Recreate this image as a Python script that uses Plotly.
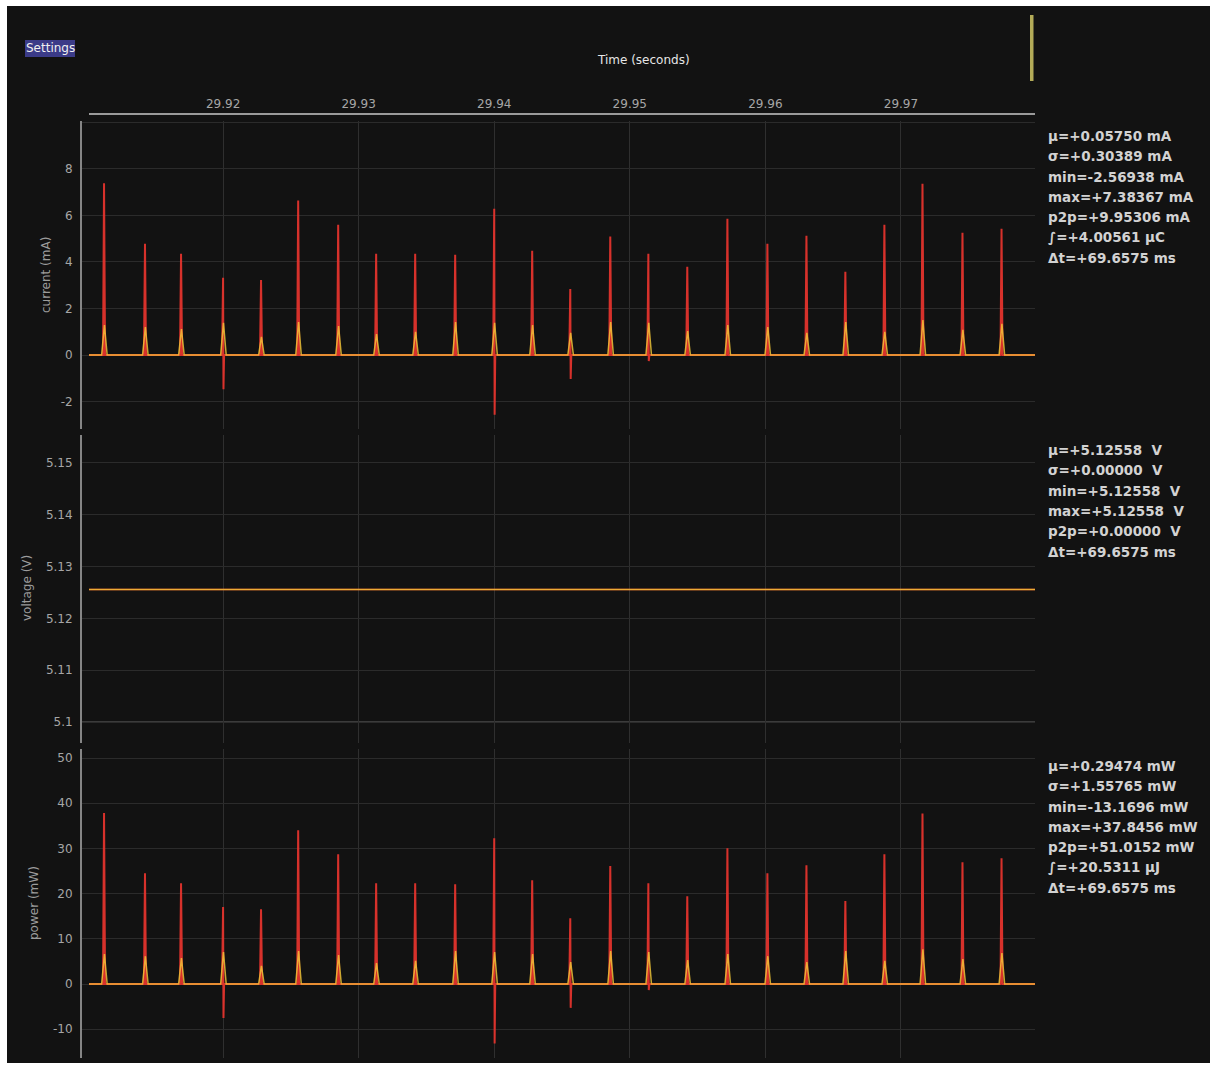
import plotly.graph_objects as go

# ---- measurement data -------------------------------------------------------
# pulse centre times (s)
pulse_t = [29.91122, 29.91424, 29.91690, 29.92000, 29.92280, 29.92554,
           29.92849, 29.93129, 29.93417, 29.93712, 29.94000, 29.94280,
           29.94561, 29.94856, 29.95137, 29.95424, 29.95720, 29.96015,
           29.96303, 29.96590, 29.96878, 29.97159, 29.97454, 29.97742]
# raw current peak and undershoot per pulse (mA)
raw_peak = [7.38367, 4.78, 4.35, 3.32, 3.23, 6.64, 5.60, 4.35, 4.35, 4.31,
            6.29, 4.48, 2.84, 5.09, 4.35, 3.79, 5.86, 4.78, 5.13, 3.58,
            5.60, 7.36, 5.26, 5.43]
raw_dip = [0, 0, 0, -1.47, 0, 0, 0, 0, 0, 0,
           -2.56938, 0, -1.03, 0, -0.26, 0, 0, 0, 0, 0,
           0, 0, 0, 0]
# filtered current peak per pulse (mA)
filt_peak = [1.29, 1.20, 1.12, 1.38, 0.78, 1.42, 1.25, 0.90, 1.00, 1.42,
             1.38, 1.29, 0.95, 1.42, 1.38, 1.03, 1.29, 1.20, 0.95, 1.42,
             1.00, 1.50, 1.08, 1.34]
bus_voltage = 5.12558          # V, constant over the window
t_start, t_end = 29.91011, 29.97989

x_ticks = [29.92, 29.93, 29.94, 29.95, 29.96, 29.97]
x_ticktext = ["29.92", "29.93", "29.94", "29.95", "29.96", "29.97"]
i_ticks = [-2, 0, 2, 4, 6, 8, 10]
i_ticktext = ["-2", "0", "2", "4", "6", "8", ""]
v_ticks = [5.10, 5.11, 5.12, 5.13, 5.14, 5.15]
v_ticktext = ["5.1", "5.11", "5.12", "5.13", "5.14", "5.15"]
p_ticks = [-10, 0, 10, 20, 30, 40, 50]
p_ticktext = ["-10", "0", "10", "20", "30", "40", "50"]

stats_current = ["μ=+0.05750 mA", "σ=+0.30389 mA", "min=-2.56938 mA",
                 "max=+7.38367 mA", "p2p=+9.95306 mA", "∫=+4.00561 μC",
                 "Δt=+69.6575 ms"]
stats_voltage = ["μ=+5.12558  V", "σ=+0.00000  V", "min=+5.12558  V",
                 "max=+5.12558  V", "p2p=+0.00000  V", "Δt=+69.6575 ms"]
stats_power = ["μ=+0.29474 mW", "σ=+1.55765 mW", "min=-13.1696 mW",
               "max=+37.8456 mW", "p2p=+51.0152 mW", "∫=+20.5311 μJ",
               "Δt=+69.6575 ms"]

# ---- waveform construction --------------------------------------------------
RAW_W = 7.5e-5      # half width of a raw spike (s)
FILT_RISE = 1.8e-4  # filtered pulse rise time (s)
FILT_FALL = 2.3e-4  # filtered pulse fall time (s)


def raw_wave(scale=1.0):
    xs, ys = [t_start], [0.0]
    for t, pk, dip in zip(pulse_t, raw_peak, raw_dip):
        xs += [t - RAW_W, t]
        ys += [0.0, pk * scale]
        if dip:
            xs += [t + 0.4 * RAW_W]
            ys += [dip * scale]
        xs += [t + RAW_W]
        ys += [0.0]
    xs.append(t_end)
    ys.append(0.0)
    return xs, ys


def filt_wave(scale=1.0):
    xs, ys = [t_start], [0.0]
    for t, pk in zip(pulse_t, filt_peak):
        xs += [t - FILT_RISE, t + 0.4 * RAW_W, t + FILT_FALL]
        ys += [0.0, pk * scale, 0.0]
    xs.append(t_end)
    ys.append(0.0)
    return xs, ys


RED = "rgba(232,52,46,0.92)"
YEL = "rgba(242,200,56,0.82)"
BG = "#121212"
GRID = "#2b2b2b"
TICK = "#a6a6a6"
FONT = "DejaVu Sans"

fig = go.Figure()

# current
rx, ry = raw_wave()
fx, fy = filt_wave()
fig.add_trace(go.Scatter(x=rx, y=ry, mode="lines", line=dict(color=RED, width=2),
                         xaxis="x", yaxis="y", hoverinfo="skip"))
fig.add_trace(go.Scatter(x=fx, y=fy, mode="lines", line=dict(color=YEL, width=1.5),
                         xaxis="x", yaxis="y", hoverinfo="skip"))
# voltage
fig.add_trace(go.Scatter(x=[t_start, t_end], y=[bus_voltage, bus_voltage], mode="lines",
                         line=dict(color=RED, width=1.6), xaxis="x2", yaxis="y2",
                         hoverinfo="skip"))
fig.add_trace(go.Scatter(x=[t_start, t_end], y=[bus_voltage, bus_voltage], mode="lines",
                         line=dict(color=YEL, width=1.6), xaxis="x2", yaxis="y2",
                         hoverinfo="skip"))
# power = current * voltage
prx, pry = raw_wave(bus_voltage)
pfx, pfy = filt_wave(bus_voltage)
fig.add_trace(go.Scatter(x=prx, y=pry, mode="lines", line=dict(color=RED, width=2),
                         xaxis="x3", yaxis="y3", hoverinfo="skip"))
fig.add_trace(go.Scatter(x=pfx, y=pfy, mode="lines", line=dict(color=YEL, width=1.5),
                         xaxis="x3", yaxis="y3", hoverinfo="skip"))

# ---- layout geometry (pixels) -----------------------------------------------
W, H = 1210, 1066
L, R, T, B = 82, 175, 121, 8
PW, PH = W - L - R, H - T - B


def pxx(p):
    return (p - L) / PW


def pxy(p):
    return (H - B - p) / PH


x_range = [29.909594, 29.979889]

xcommon = dict(range=x_range, tickvals=x_ticks, ticktext=x_ticktext,
               showgrid=True, gridcolor="#2f2f2f", gridwidth=1, zeroline=False,
               showline=False, tickfont=dict(family=FONT, size=12, color=TICK))
ycommon = dict(showgrid=True, gridcolor=GRID, gridwidth=1, zeroline=False,
               showline=True, linecolor="#858585", linewidth=2,
               ticks="outside", ticklen=5, tickcolor=BG,
               tickfont=dict(family=FONT, size=12, color=TICK))

fig.update_layout(
    width=W, height=H,
    margin=dict(l=L, r=R, t=T, b=B, pad=0),
    paper_bgcolor="white", plot_bgcolor=BG,
    showlegend=False,
    xaxis=dict(**xcommon, anchor="y", side="top", showticklabels=True,
               ticks="outside", ticklen=7, tickcolor=BG),
    xaxis2=dict(**xcommon, anchor="y2", matches="x", showticklabels=False),
    xaxis3=dict(**xcommon, anchor="y3", matches="x", showticklabels=False),
    yaxis=dict(**ycommon, domain=[pxy(429), 1.0], range=[-3.18, 10.06],
               tickvals=i_ticks, ticktext=i_ticktext),
    yaxis2=dict(**ycommon, domain=[pxy(743), pxy(435)], range=[5.09595, 5.1554],
                tickvals=v_ticks, ticktext=v_ticktext),
    yaxis3=dict(**ycommon, domain=[0.0, pxy(749)], range=[-16.37, 51.99],
                tickvals=p_ticks, ticktext=p_ticktext),
)

shapes = [
    # window background
    dict(type="rect", xref="paper", yref="paper", layer="below",
         x0=pxx(7), x1=pxx(1210), y0=pxy(1063), y1=pxy(6),
         fillcolor=BG, line=dict(width=0)),
    # time axis rule
    dict(type="line", xref="paper", yref="paper",
         x0=pxx(89), x1=1.0, y0=pxy(114), y1=pxy(114),
         line=dict(color="#9a9a9a", width=2)),
    # brighter floor line of the voltage panel
    dict(type="line", xref="x2", yref="y2", x0=x_range[0], x1=x_range[1],
         y0=5.10, y1=5.10, line=dict(color="#4a4a4a", width=1.5), layer="below"),
    # settings button
    dict(type="rect", xref="paper", yref="paper",
         x0=pxx(25), x1=pxx(75), y0=pxy(57), y1=pxy(40),
         fillcolor="#3b3b88", line=dict(width=0)),
    # cursor handle
    dict(type="rect", xref="paper", yref="paper",
         x0=pxx(1030), x1=pxx(1033.5), y0=pxy(81), y1=pxy(15),
         fillcolor="#b3ab58", line=dict(width=0)),
]

ann = []
ann.append(dict(text="Settings", xref="paper", yref="paper", x=pxx(50), y=pxy(48.5),
                showarrow=False, font=dict(family=FONT, size=12, color="#f0f0f0"),
                xanchor="center", yanchor="middle"))
ann.append(dict(text="Time (seconds)", xref="paper", yref="paper", x=pxx(643), y=pxy(60),
                showarrow=False, font=dict(family=FONT, size=12, color="#e6e6e6"),
                xanchor="center", yanchor="middle"))

for txt, xp, yp in [("current (mA)", 46, 275), ("voltage (V)", 27, 588),
                    ("power (mW)", 34, 903)]:
    ann.append(dict(text=txt, xref="paper", yref="paper", x=pxx(xp), y=pxy(yp),
                    textangle=-90, showarrow=False,
                    font=dict(family=FONT, size=12, color="#9c9c9c"),
                    xanchor="center", yanchor="middle"))

for lines, y0 in [(stats_current, 136), (stats_voltage, 450), (stats_power, 766)]:
    for k, line in enumerate(lines):
        ann.append(dict(text="<b>" + line + "</b>", xref="paper", yref="paper",
                        x=pxx(1046), y=pxy(y0 + k * 20.3), showarrow=False,
                        font=dict(family=FONT, size=13.5, color="#d2d2d2"),
                        xanchor="left", yanchor="middle"))

fig.update_layout(shapes=shapes, annotations=ann)
fig.write_html("out.html")
